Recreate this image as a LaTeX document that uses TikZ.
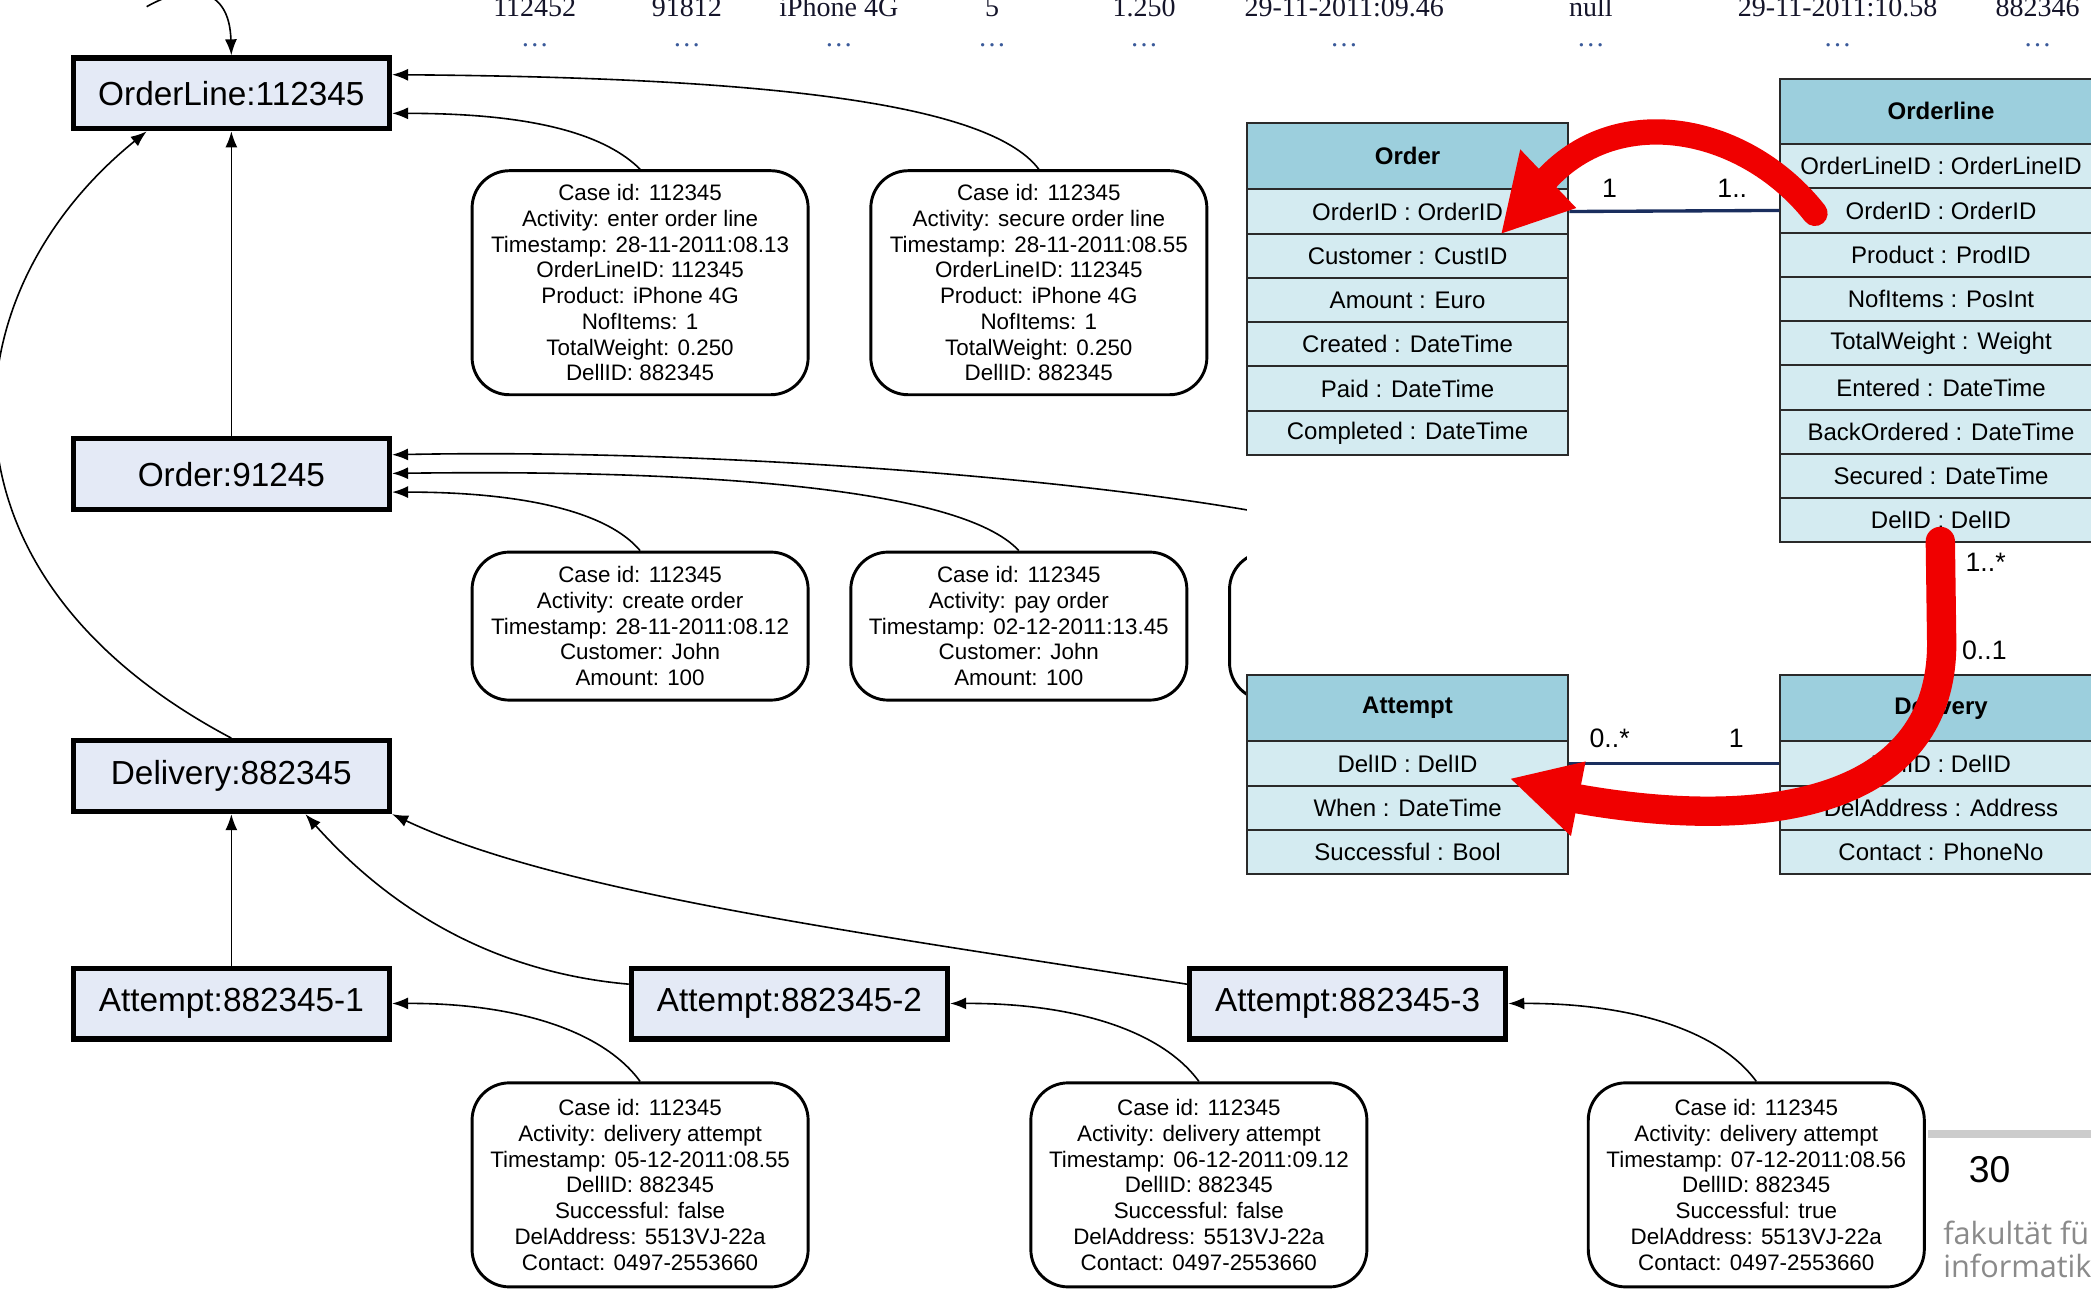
\documentclass[tikz,border=0pt]{standalone}
\usepackage{fontspec}
\setmainfont{Liberation Sans}
\newfontfamily\rowfont{Liberation Serif}
\newfontfamily\fakfont{Open Sans}
\usetikzlibrary{arrows.meta,calc}
\definecolor{objfill}{HTML}{E4EAF6}
\definecolor{umlhead}{HTML}{9CCFDD}
\definecolor{umlrow}{HTML}{D4EBF1}
\definecolor{umlline}{HTML}{2A2A2A}
\definecolor{assocblue}{HTML}{1A2E5E}
\definecolor{dotblue}{HTML}{3A5A9A}
\definecolor{rowtext}{HTML}{15152A}
\definecolor{redarrow}{HTML}{F00000}
\definecolor{fakgray}{HTML}{8A8A8A}
\begin{document}
\begin{tikzpicture}[x=1pt,y=-1pt,
 obj/.style={draw=black, line width=4pt, fill=objfill, minimum width=237pt, minimum height=53pt, inner sep=0pt, font=\fontsize{25}{30}\selectfont},
 ev/.style={draw=black, line width=2.2pt, rounded corners=28pt, fill=white, align=center, inner sep=0pt, minimum width=252pt, font=\fontsize{16.8}{19.3}\selectfont},
 conn/.style={line width=1.2pt, -{Latex[length=12pt,width=9pt]}},
 umlh/.style={draw=umlline, line width=1.5pt, fill=umlhead, minimum width=241pt, minimum height=50pt, inner sep=0pt, font=\bfseries\fontsize{18}{22}\selectfont},
 umlr/.style={draw=umlline, line width=1.5pt, fill=umlrow, minimum width=241pt, minimum height=33.2pt, inner sep=0pt, font=\fontsize{18}{22}\selectfont},
 assoc/.style={draw=assocblue, line width=2.5pt},
 mult/.style={font=\fontsize{20}{24}\selectfont, inner sep=0pt},
 toprow/.style={anchor=base, inner sep=0pt, text=rowtext, font=\rowfont\fontsize{21}{25}\selectfont},
 dotrow/.style={anchor=base, inner sep=0pt, text=dotblue, font=\rowfont\fontsize{21}{25}\selectfont},
 redstroke/.style={draw=redarrow, line cap=round},
]
\useasboundingbox (0,0) rectangle (1568,967);
\fill[white] (0,0) rectangle (1568,967);

% top table row (cut off)
\node[toprow] (t1) at (401,12) {112452};
\node[toprow] (t2) at (515,12) {91812};
\node[toprow] (t3) at (629,12) {iPhone 4G};
\node[toprow] (t4) at (744,12) {5};
\node[toprow] (t5) at (858,12) {1.250};
\node[toprow] (t6) at (1008,12) {29-11-2011:09.46};
\node[toprow] (t7) at (1193,12) {null};
\node[toprow] (t8) at (1378,12) {29-11-2011:10.58};
\node[toprow] (t9) at (1528,12) {882346};
\node[dotrow] (d1) at (401,35) {\ldots};
\node[dotrow] (d2) at (515,35) {\ldots};
\node[dotrow] (d3) at (629,35) {\ldots};
\node[dotrow] (d4) at (744,35) {\ldots};
\node[dotrow] (d5) at (858,35) {\ldots};
\node[dotrow] (d6) at (1008,35) {\ldots};
\node[dotrow] (d7) at (1193,35) {\ldots};
\node[dotrow] (d8) at (1378,35) {\ldots};
\node[dotrow] (d9) at (1528,35) {\ldots};

% object nodes
\node[obj] (OL) at (173.5,70) {OrderLine:112345};
\node[obj] (OR) at (173.5,355.5) {Order:91245};
\node[obj] (DL) at (173.5,582) {Delivery:882345};
\node[obj] (A1) at (173.5,752.5) {Attempt:882345-1};
\node[obj] (A2) at (592,752.5) {Attempt:882345-2};
\node[obj] (A3) at (1010.5,752.5) {Attempt:882345-3};

% event boxes
\node[ev, minimum height=168pt] (E1) at (480,212) {Case id: 112345\\Activity: enter order line\\Timestamp: 28-11-2011:08.13\\OrderLineID: 112345\\Product: iPhone 4G\\NofItems: 1\\TotalWeight: 0.250\\DellID: 882345};
\node[ev, minimum height=168pt] (E2) at (779,212) {Case id: 112345\\Activity: secure order line\\Timestamp: 28-11-2011:08.55\\OrderLineID: 112345\\Product: iPhone 4G\\NofItems: 1\\TotalWeight: 0.250\\DellID: 882345};
\node[ev, minimum height=111pt] (E3) at (480,469.5) {Case id: 112345\\Activity: create order\\Timestamp: 28-11-2011:08.12\\Customer: John\\Amount: 100};
\node[ev, minimum height=111pt] (E4) at (764,469.5) {Case id: 112345\\Activity: pay order\\Timestamp: 02-12-2011:13.45\\Customer: John\\Amount: 100};
\node[ev, minimum height=111pt] (E5) at (1048,469.5) {};
\node[ev, minimum height=153pt] (E6) at (480,888.5) {Case id: 112345\\Activity: delivery attempt\\Timestamp: 05-12-2011:08.55\\DellID: 882345\\Successful: false\\DelAddress: 5513VJ-22a\\Contact: 0497-2553660};
\node[ev, minimum height=153pt] (E7) at (899,888.5) {Case id: 112345\\Activity: delivery attempt\\Timestamp: 06-12-2011:09.12\\DellID: 882345\\Successful: false\\DelAddress: 5513VJ-22a\\Contact: 0497-2553660};
\node[ev, minimum height=153pt] (E8) at (1317,888.5) {Case id: 112345\\Activity: delivery attempt\\Timestamp: 07-12-2011:08.56\\DellID: 882345\\Successful: true\\DelAddress: 5513VJ-22a\\Contact: 0497-2553660};

% connectors
\coordinate (topstart) at (110,5);
\draw[conn] (topstart) .. controls (140,-12) and (172,-12) .. (OL.north);
\draw[conn] (OR.north) -- (OL.south);
\draw[conn] (DL.north) .. controls (-60,430) and (-40,220) .. (OL.south -| 110,0);
\draw[conn] (E1.north) .. controls (445,92) and (370,85) .. (OL.east |- 0,85);
\draw[conn] (E2.north) .. controls (740,75) and (560,58) .. (OL.east |- 0,56);
\draw[conn] (E3.north) .. controls (455,383) and (390,369) .. (OR.east |- 0,369);
\draw[conn] (E4.north) .. controls (720,365) and (520,352) .. (OR.east |- 0,355);
\draw[conn] (E5.north) .. controls (990,375) and (600,335) .. (OR.east |- 0,341);
\draw[conn] (A1.north) -- (DL.south);
\draw[conn] (A2.west |- 0,738) .. controls (380,730) and (300,690) .. (DL.south -| 229,0);
\draw[conn] (A3.west |- 0,738) .. controls (650,700) and (420,670) .. (DL.south east);
\draw[conn] (E6.north) .. controls (450,770) and (380,752) .. (A1.east);
\draw[conn] (E7.north) .. controls (869,770) and (799,752) .. (A2.east);
\draw[conn] (E8.north) .. controls (1287,770) and (1217,752) .. (A3.east);

% UML panel
\fill[white] (935,45) rectangle (1568,665);

% Order table
\node[umlh] (ordH) at (1055.5,117) {Order};
\node[umlr] (ord1) at (1055.5,158.6) {OrderID : OrderID};
\node[umlr] (ord2) at (1055.5,191.8) {Customer : CustID};
\node[umlr] (ord3) at (1055.5,225) {Amount : Euro};
\node[umlr] (ord4) at (1055.5,258.2) {Created : DateTime};
\node[umlr] (ord5) at (1055.5,291.4) {Paid : DateTime};
\node[umlr] (ord6) at (1055.5,324.6) {Completed : DateTime};

% Orderline table
\node[umlh, minimum height=49pt] (olH) at (1455.5,83.5) {Orderline};
\node[umlr] (ol1) at (1455.5,124.6) {OrderLineID : OrderLineID};
\node[umlr] (ol2) at (1455.5,157.8) {OrderID : OrderID};
\node[umlr] (ol3) at (1455.5,191) {Product : ProdID};
\node[umlr] (ol4) at (1455.5,224.2) {NofItems : PosInt};
\node[umlr] (ol5) at (1455.5,257.4) {TotalWeight : Weight};
\node[umlr] (ol6) at (1455.5,290.6) {Entered : DateTime};
\node[umlr] (ol7) at (1455.5,323.8) {BackOrdered : DateTime};
\node[umlr] (ol8) at (1455.5,357) {Secured : DateTime};
\node[umlr] (ol9) at (1455.5,390.2) {DelID : DelID};

% Attempt table
\node[umlh] (atH) at (1055.5,531) {Attempt};
\node[umlr] (at1) at (1055.5,572.6) {DelID : DelID};
\node[umlr] (at2) at (1055.5,605.8) {When : DateTime};
\node[umlr] (at3) at (1055.5,639) {Successful : Bool};

% Delivery table
\node[umlh] (dlH) at (1455.5,531) {Delivery};
\node[umlr] (dl1) at (1455.5,572.6) {DelID : DelID};
\node[umlr] (dl2) at (1455.5,605.8) {DelAddress : Address};
\node[umlr] (dl3) at (1455.5,639) {Contact : PhoneNo};

% associations
\draw[assoc] (ord1.east) -- (ol2.west);
\draw[assoc] (ol9.south) -- (dlH.north);
\draw[assoc] (at1.east) -- (dl1.west);
\node[mult] (m1) at (1207,141) {1};
\node[mult] (m2) at (1299,141) {1..};
\node[mult] (m3) at (1489,422) {1..*};
\node[mult] (m4) at (1488,488) {0..1};
\node[mult] (m5) at (1207,554) {0..*};
\node[mult] (m6) at (1302,554) {1};

% red arrows
\coordinate (r1s) at (1361,160);
\coordinate (r1b) at (1160,134);
\draw[redstroke, line width=19pt] (r1s) .. controls (1310,95) and (1215,75) .. (r1b);
\fill[redarrow] (1140,112) -- (1182,156) -- (1126,175) -- cycle;
\coordinate (r2s) at (1455,406);
\coordinate (r2b) at (1183,599);
\draw[redstroke, line width=22pt] (r2s) -- (1456,480) .. controls (1458,600) and (1330,625) .. (r2b);
\fill[redarrow] (1189,571) -- (1178,627) -- (1133,584) -- cycle;

% footer
\fill[gray!40] (1446,847) rectangle (1568,853);
\node[inner sep=0pt, font=\fontsize{28}{32}\selectfont] (pg) at (1492,877) {30};
\node[anchor=base west, inner sep=0pt, text=fakgray, font=\fakfont\fontsize{23}{25}\selectfont] (fk1) at (1457,933) {fakultät für};
\node[anchor=base west, inner sep=0pt, text=fakgray, font=\fakfont\fontsize{23}{25}\selectfont] (fk2) at (1457,958) {informatik};
\end{tikzpicture}
\end{document}
